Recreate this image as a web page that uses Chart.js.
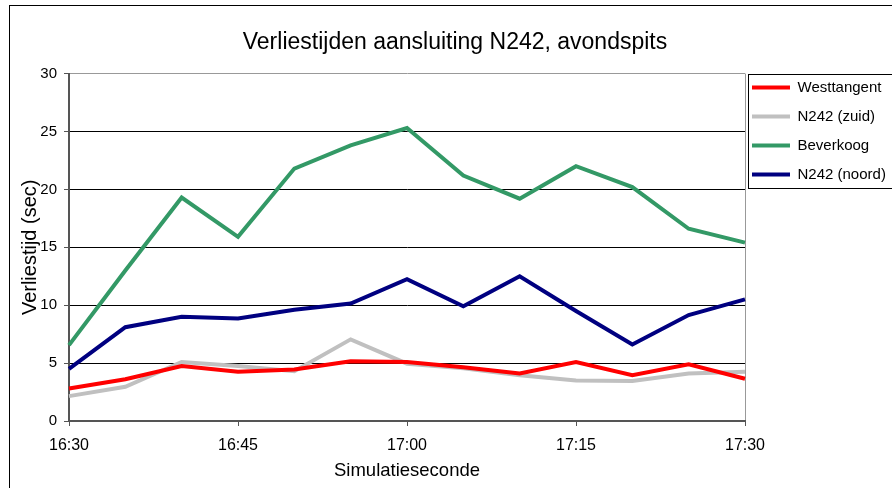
<!DOCTYPE html>
<html lang="nl">
<head>
    <meta charset="UTF-8">
    <title>Verliestijden aansluiting N242, avondspits</title>
    <script src="https://cdn.jsdelivr.net/npm/chart.js"></script>
    <style>
        html, body { margin: 0; padding: 0; background: #fff; }
        .chart-container { position: relative; width: 892px; height: 488px; }
    </style>
</head>
<body>
    <div class="chart-container">
        <canvas id="lossChart"></canvas>
    </div>
    <script>
        // Data
        const times = ['16:30', '16:35', '16:40', '16:45', '16:50', '16:55', '17:00',
                       '17:05', '17:10', '17:15', '17:20', '17:25', '17:30'];
        const xTickLabels = ['16:30', '16:45', '17:00', '17:15', '17:30'];
        const yTicks = [0, 5, 10, 15, 20, 25, 30];

        const westtangent = [2.8, 3.6, 4.75, 4.25, 4.45, 5.15, 5.1, 4.65, 4.1, 5.1, 3.95, 4.9, 3.65];
        const n242Zuid    = [2.15, 2.95, 5.1, 4.75, 4.3, 7.05, 4.95, 4.55, 3.95, 3.5, 3.45, 4.1, 4.25];
        const beverkoog   = [6.55, 13.0, 19.3, 15.9, 21.8, 23.8, 25.3, 21.2, 19.2, 22.0, 20.2, 16.6, 15.4];
        const n242Noord   = [4.5, 8.1, 9.0, 8.85, 9.6, 10.15, 12.25, 9.9, 12.5, 9.5, 6.6, 9.15, 10.5];

        const FONT = "'Liberation Sans', Arial, sans-serif";

        function line(label, data, color) {
            return {
                label: label,
                data: data,
                borderColor: color,
                backgroundColor: color,
                borderWidth: 4,
                pointRadius: 0,
                pointStyle: 'line',
                tension: 0,
                fill: false
            };
        }

        // Frame around the chart and box around the legend, like the Excel original
        const framePlugin = {
            id: 'frame',
            afterLayout(chart) {
                const a = chart.chartArea;
                chart.legend.left = a.right - 7;
                chart.legend.top = a.top - 7.5;
            },
            afterDraw(chart) {
                const ctx = chart.ctx;
                const a = chart.chartArea;
                ctx.save();
                ctx.strokeStyle = '#000';
                ctx.lineWidth = 1;
                ctx.strokeRect(9.5, 5.5, chart.width + 20, chart.height + 20);
                ctx.strokeRect(Math.round(a.right) + 3.5, Math.round(a.top) + 0.5, 200, 114);
                ctx.restore();
            }
        };

        new Chart(document.getElementById('lossChart'), {
            type: 'line',
            data: {
                labels: times,
                datasets: [
                    line('Westtangent', westtangent, '#ff0000'),
                    line('N242 (zuid)', n242Zuid, '#c0c0c0'),
                    line('Beverkoog', beverkoog, '#339966'),
                    line('N242 (noord)', n242Noord, '#000080')
                ]
            },
            options: {
                responsive: true,
                maintainAspectRatio: false,
                animation: false,
                layout: { padding: { left: 18, top: 0, right: 0, bottom: 0 } },
                plugins: {
                    title: {
                        display: true,
                        text: 'Verliestijden aansluiting N242, avondspits',
                        color: '#000',
                        font: { family: FONT, size: 23, weight: 'normal' },
                        padding: { top: 29, bottom: 17 }
                    },
                    legend: {
                        position: 'right',
                        align: 'start',
                        maxWidth: 147,
                        labels: {
                            usePointStyle: true,
                            pointStyleWidth: 38,
                            padding: 14,
                            color: '#000',
                            font: { family: FONT, size: 15 }
                        }
                    },
                    tooltip: { enabled: false }
                },
                scales: {
                    x: {
                        type: 'category',
                        offset: false,
                        afterFit: (s) => { s.height = 67; },
                        border: { color: '#555', width: 2 },
                        grid: {
                            drawOnChartArea: true,
                            color: (c) => c.index === times.length - 1 ? '#999' : 'transparent',
                            tickColor: (c) => xTickLabels.includes(times[c.index]) ? '#555' : 'transparent',
                            tickLength: 5
                        },
                        ticks: {
                            autoSkip: false,
                            maxRotation: 0,
                            padding: 10,
                            color: '#000',
                            font: { family: FONT, size: 16 },
                            callback: (v, i) => xTickLabels.includes(times[i]) ? times[i] : ''
                        },
                        title: {
                            display: true,
                            text: 'Simulatieseconde',
                            color: '#000',
                            font: { family: FONT, size: 18.5 },
                            padding: { top: 0, bottom: 6 }
                        }
                    },
                    y: {
                        min: yTicks[0],
                        max: yTicks[yTicks.length - 1],
                        afterFit: (s) => { s.width = 51; },
                        border: { color: '#555', width: 2 },
                        grid: {
                            color: (c) => c.tick.value === 30 ? '#999' : '#000',
                            tickColor: '#555',
                            tickLength: 5
                        },
                        ticks: {
                            stepSize: 5,
                            padding: 7,
                            color: '#000',
                            font: { family: FONT, size: 15 }
                        },
                        title: {
                            display: true,
                            text: 'Verliestijd (sec)',
                            color: '#000',
                            font: { family: FONT, size: 20 },
                            padding: 0
                        }
                    }
                }
            },
            plugins: [framePlugin]
        });
    </script>
</body>
</html>
